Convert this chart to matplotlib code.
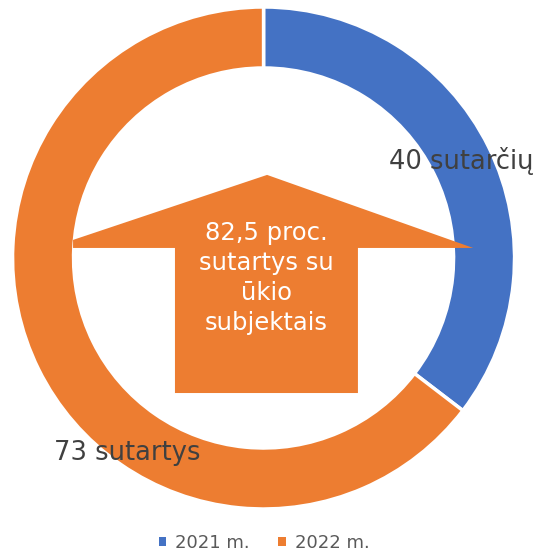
import matplotlib.pyplot as plt
from matplotlib.patches import Polygon, Patch

# data
years = ['2021 m.', '2022 m.']
contracts = [40, 73]
slice_labels = ['40 sutarčių', '73 sutartys']
colors = ['#4472C4', '#ED7D31']
center_text = '82,5 proc.\nsutartys su\nūkio\nsubjektais'

fig = plt.figure(figsize=(5.37, 5.55), dpi=100)
ax = fig.add_axes([0.0233, 0.0829, 0.935, 0.9045])

wedges, _ = ax.pie(contracts, colors=colors, startangle=90, counterclock=False,
                   radius=1, wedgeprops=dict(width=0.243, edgecolor='white', linewidth=2.5))

ax.set_xlim(-1, 1)
ax.set_ylim(-1, 1)
ax.set_aspect('equal')
ax.axis('off')

# slice labels
ax.text(0.787, 0.386, slice_labels[0], ha='center', va='center',
        fontsize=18.5, color='#404040')
ax.text(-0.544, -0.777, slice_labels[1], ha='center', va='center',
        fontsize=18.5, color='#404040')

# up arrow shape in the middle
arrow = Polygon([(0.014, 0.331), (0.835, 0.040), (0.376, 0.040), (0.376, -0.538),
                 (-0.353, -0.538), (-0.353, 0.040), (-0.759, 0.040), (-0.759, 0.072)],
                closed=True, facecolor=colors[1], edgecolor='none')
ax.add_patch(arrow)
ax.text(0.01, -0.08, center_text, ha='center', va='center', fontsize=17.5,
        color='white', linespacing=1.32)

handles = [Patch(facecolor=c, edgecolor='none') for c in colors]
fig.legend(handles, years, loc='center', bbox_to_anchor=(0.4916, 0.0216), ncol=2,
           frameon=False, fontsize=13, handlelength=0.4, handleheight=0.4,
           handletextpad=0.5, columnspacing=1.6, labelcolor='#595959')

fig.savefig('out.png', dpi=100)
